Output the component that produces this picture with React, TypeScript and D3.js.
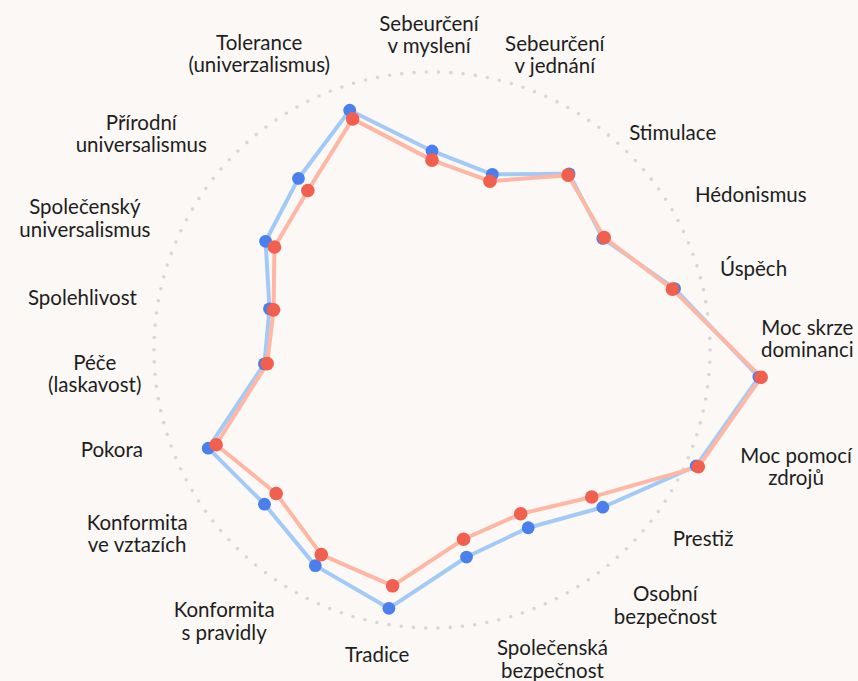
import React from 'react';
import * as d3 from 'd3';

// Axis labels (clockwise from top)
const axes: string[] = [
  'Sebeurčení\nv myslení',
  'Sebeurčení\nv jednání',
  'Stimulace',
  'Hédonismus',
  'Úspěch',
  'Moc skrze\ndominanci',
  'Moc pomocí\nzdrojů',
  'Prestiž',
  'Osobní\nbezpečnost',
  'Společenská\nbezpečnost',
  'Tradice',
  'Konformita\ns pravidly',
  'Konformita\nve vztazích',
  'Pokora',
  'Péče\n(laskavost)',
  'Spolehlivost',
  'Společenský\nuniversalismus',
  'Přírodní\nuniversalismus',
  'Tolerance\n(univerzalismus)',
];

// Series values (circle = 100)
const seriesBlue: number[] = [71.6, 66.8, 80.3, 73.4, 90.0, 118.0, 103.8, 83.5, 72.7, 75.5, 94.2, 88.2, 81.9, 87.9, 60.5, 60.3, 71.5, 78.2, 91.2];
const seriesRed: number[] = [68.3, 64.2, 79.7, 74.0, 89.2, 118.8, 104.6, 78.1, 67.0, 69.0, 86.0, 83.7, 76.2, 84.8, 59.5, 58.8, 67.7, 72.7, 87.9];

// Label placement: [distance along axis, tangential shift] in px
const labelPlacement: [number, number][] = [
  [316, -3], [320, 20], [320, 56], [352, 44], [332, -1], [373, -43], [380, -40],
  [327, -45], [335, -84], [324, -68], [309, 4], [337, 54], [341, 65], [333, 38],
  [338, 5], [352, -34], [363, -79], [350, -96], [337, -67],
];

const W = 858, H = 681, CX = 432, CY = 350, R = 278;

export default function App() {
  const n = axes.length;
  const angle = d3.scaleLinear().domain([0, n]).range([0, 2 * Math.PI]);
  const r = d3.scaleLinear().domain([0, 100]).range([0, R]);
  const line = d3
    .lineRadial<number>()
    .angle((_, i) => angle(i))
    .radius((d) => r(d))
    .curve(d3.curveLinearClosed);
  const pt = (v: number, i: number) => {
    const a = angle(i);
    return [r(v) * Math.sin(a), -r(v) * Math.cos(a)];
  };
  const series = [
    { vals: seriesBlue, line: '#a3caf7', dot: '#4b7fee', dr: 6.4 },
    { vals: seriesRed, line: '#ffb7a5', dot: '#f1604f', dr: 6.8 },
  ];
  return (
    <div>
      <style>{`body{margin:0;background:#fbf8f5}`}</style>
      <svg width={W} height={H} style={{ display: 'block', background: '#fbf8f5' }}>
        <g transform={`translate(${CX},${CY})`}>
          <circle r={R} fill="none" stroke="#d7d7db" strokeWidth={3.6} strokeDasharray="0 12.3" strokeLinecap="round" />
          {series.map((s, k) => (
            <path key={'l' + k} d={line(s.vals) || ''} fill="none" stroke={s.line} strokeWidth={4} strokeLinejoin="round" />
          ))}
          {series.map((s, k) => (
            <g key={'d' + k}>
              {s.vals.map((v, i) => {
                const [x, y] = pt(v, i);
                return <circle key={i} cx={x} cy={y} r={s.dr} fill={s.dot} />;
              })}
            </g>
          ))}
          {axes.map((lab, i) => {
            const a = angle(i);
            const [along, perp] = labelPlacement[i];
            const x = along * Math.sin(a) + perp * Math.cos(a);
            const y = -along * Math.cos(a) + perp * Math.sin(a);
            const lines = lab.split('\n');
            const lh = 22.5;
            return (
              <text key={i} x={x} y={y} textAnchor="middle" fontFamily="Lato, sans-serif" fontSize={20.5} fill="#1e1e1e">
                {lines.map((t, j) => (
                  <tspan key={j} x={x} y={y + (j - (lines.length - 1) / 2) * lh} dominantBaseline="central">
                    {t}
                  </tspan>
                ))}
              </text>
            );
          })}
        </g>
      </svg>
    </div>
  );
}
